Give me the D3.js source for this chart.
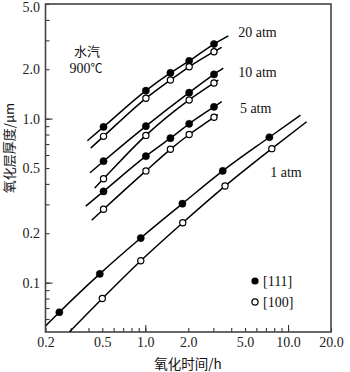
<!DOCTYPE html>
<html><head><meta charset="utf-8">
<script src="https://cdn.jsdelivr.net/npm/d3@7"></script>
<style>body{margin:0;background:#fff}</style>
</head><body><svg id="c" width="350" height="372"></svg>
<script>
// ---- data (oxidation time in h, oxide thickness in µm) ----
const hours5pt = [0.51, 1.01, 1.50, 2.03, 3.03];
const hours4pt = [0.51, 1.01, 2.03, 3.03];
const hours1atm111 = [0.25, 0.48, 0.93, 1.82, 3.49, 7.4];
const hours1atm100 = [0.50, 0.93, 1.83, 3.62, 7.7];

const atm20_111 = [0.89, 1.48, 1.90, 2.25, 2.85];
const atm20_100 = [0.78, 1.33, 1.72, 2.07, 2.56];
const atm10_111 = [0.55, 0.90, 1.44, 1.86];
const atm10_100 = [0.43, 0.79, 1.30, 1.65];
const atm5_111  = [0.36, 0.59, 0.76, 0.93, 1.18];
const atm5_100  = [0.28, 0.48, 0.65, 0.80, 1.02];
const atm1_111  = [0.066, 0.113, 0.187, 0.303, 0.48, 0.77];
const atm1_100  = [0.080, 0.136, 0.232, 0.388, 0.656];

// fitted-curve extensions beyond the data: [start, end] as [h, µm]
const ext20_111 = [[0.393, 0.733], [3.82, 3.2]];
const ext20_100 = [[0.415, 0.662], [3.43, 2.72]];
const ext10_111 = [[0.41, 0.468], [3.52, 2.03]];
const ext10_100 = [[0.442, 0.378], [3.25, 1.72]];
const ext5_111  = [[0.383, 0.293], [3.43, 1.27]];
const ext5_100  = [[0.421, 0.240], [3.22, 1.06]];
const ext1_111  = [[0.2, 0.0545], [12.2, 1.05]];
const ext1_100  = [[0.294, 0.05], [13.5, 0.957]];

const xLabelTicks = [0.2, 0.5, 1, 2, 5, 10, 20];
const xMinorTicks = [0.3, 0.4, 0.6, 0.7, 0.8, 0.9, 3, 4, 6, 7, 8, 9];
const xMajorTicks = [1, 10];
const yLabelTicks = [0.1, 0.2, 0.5, 1, 2, 5];
const yMinorTicks = [0.06, 0.07, 0.08, 0.09, 0.3, 0.4, 0.6, 0.7, 0.8, 0.9, 3, 4];
const yMajorTicks = [0.1, 1];

const pressureLabels = [
  {text: "20 atm", t: 4.48, v: 3.15},
  {text: "10 atm", t: 4.48, v: 1.79},
  {text: "5 atm",  t: 4.6,  v: 1.08},
  {text: "1 atm",  t: 7.5,  v: 0.44}
];

const series = [
  {hours: hours5pt, vals: atm20_111, ext: ext20_111, filled: true},
  {hours: hours5pt, vals: atm20_100, ext: ext20_100, filled: false},
  {hours: hours4pt, vals: atm10_111, ext: ext10_111, filled: true},
  {hours: hours4pt, vals: atm10_100, ext: ext10_100, filled: false},
  {hours: hours5pt, vals: atm5_111,  ext: ext5_111,  filled: true},
  {hours: hours5pt, vals: atm5_100,  ext: ext5_100,  filled: false},
  {hours: hours1atm111, vals: atm1_111, ext: ext1_111, filled: true},
  {hours: hours1atm100, vals: atm1_100, ext: ext1_100, filled: false}
];

// ---- chart ----
const L = 45.5, R = 331, T = 4, B = 332;
const serif = "'Liberation Serif','Tinos','DejaVu Serif','Times New Roman',serif";
const cjk = "'Noto Sans CJK SC','Noto Sans CJK JP',sans-serif";
const svg = d3.select("#c");
const x = d3.scaleLog().domain([0.2, 20]).range([L, R]);
const y = d3.scaleLog().domain([0.05, 5]).range([B, T]);

svg.append("defs").append("clipPath").attr("id", "clip")
  .append("rect").attr("x", L).attr("y", T).attr("width", R - L).attr("height", B - T);

function styleAxis(g) {
  g.attr("font-family", serif);
  g.select(".domain").remove();
  g.selectAll(".tick line").attr("stroke", "#333").attr("stroke-width", 1.1);
  g.selectAll("text").style("font-family", serif).attr("font-size", 14).attr("fill", "#222");
}
// x axis
svg.append("g").attr("transform", `translate(0,${B})`)
  .call(d3.axisBottom(x).tickValues(xMinorTicks).tickSize(-4).tickFormat("")).call(styleAxis);
svg.append("g").attr("transform", `translate(0,${B})`)
  .call(d3.axisBottom(x).tickValues(xMajorTicks).tickSize(-7).tickFormat("")).call(styleAxis);
svg.append("g").attr("transform", `translate(0,${B})`)
  .call(d3.axisBottom(x).tickValues(xLabelTicks).tickSize(-4).tickPadding(5).tickFormat(d3.format(".1f")))
  .call(styleAxis);
// y axis
svg.append("g").attr("transform", `translate(${L},0)`)
  .call(d3.axisLeft(y).tickValues(yMinorTicks).tickSize(-4).tickFormat("")).call(styleAxis);
svg.append("g").attr("transform", `translate(${L},0)`)
  .call(d3.axisLeft(y).tickValues(yMajorTicks).tickSize(-7).tickFormat("")).call(styleAxis);
const yLab = svg.append("g").attr("transform", `translate(${L},0)`)
  .call(d3.axisLeft(y).tickValues(yLabelTicks).tickSize(-4).tickPadding(5.5).tickFormat(d3.format(".1f")))
  .call(styleAxis);
yLab.selectAll(".tick text").filter(d => d === 5).attr("dy", "0.5em");

// frame
svg.append("rect").attr("x", L).attr("y", T).attr("width", R - L).attr("height", B - T)
  .attr("fill", "none").attr("stroke", "#444").attr("stroke-width", 1.6);

// curves
const line = d3.line().x(d => x(d[0])).y(d => y(d[1])).curve(d3.curveMonotoneX);
const plot = svg.append("g").attr("clip-path", "url(#clip)");
series.forEach(s => {
  const pts = [s.ext[0], ...s.hours.map((h, i) => [h, s.vals[i]]), s.ext[1]];
  plot.append("path").attr("d", line(pts)).attr("fill", "none")
    .attr("stroke", "#000").attr("stroke-width", 1.5);
});
series.forEach(s => {
  svg.append("g").selectAll("circle").data(s.hours.map((h, i) => [h, s.vals[i]])).join("circle")
    .attr("cx", d => x(d[0])).attr("cy", d => y(d[1]))
    .attr("r", s.filled ? 3.6 : 3.1)
    .attr("fill", s.filled ? "#000" : "#fff")
    .attr("stroke", "#000").attr("stroke-width", s.filled ? 0.5 : 1.2);
});

// pressure labels
svg.append("g").selectAll("text").data(pressureLabels).join("text")
  .attr("x", d => x(d.t)).attr("y", d => y(d.v))
  .style("font-family", serif).attr("font-size", 14).attr("fill", "#111")
  .text(d => d.text);

// conditions
svg.append("text").attr("x", 87).attr("y", 56).attr("text-anchor", "middle")
  .style("font-family", cjk).attr("font-size", 13).attr("fill", "#111").text("水汽");
const cond = svg.append("text").attr("x", 86).attr("y", 73).attr("text-anchor", "middle")
  .attr("font-size", 14).attr("fill", "#111");
cond.append("tspan").style("font-family", serif).text("900");
cond.append("tspan").style("font-family", cjk).attr("font-size", 12).text("℃");

// legend
svg.append("circle").attr("cx", 255).attr("cy", 281).attr("r", 3.6).attr("fill", "#000");
svg.append("circle").attr("cx", 255).attr("cy", 302).attr("r", 3.1).attr("fill", "#fff")
  .attr("stroke", "#000").attr("stroke-width", 1.2);
svg.append("text").attr("x", 263).attr("y", 286).style("font-family", serif).attr("font-size", 14)
  .attr("fill", "#111").text("[111]");
svg.append("text").attr("x", 263).attr("y", 307).style("font-family", serif).attr("font-size", 14)
  .attr("fill", "#111").text("[100]");

// axis titles
svg.append("text").attr("x", 188).attr("y", 369).attr("text-anchor", "middle")
  .style("font-family", cjk).attr("font-size", 13.5).attr("fill", "#111").text("氧化时间/h");
svg.append("text").attr("transform", "translate(8,148) rotate(-90)").attr("text-anchor", "middle")
  .attr("dominant-baseline", "central")
  .style("font-family", cjk).attr("font-size", 13).attr("fill", "#111").text("氧化层厚度/μm");
</script></body></html>
